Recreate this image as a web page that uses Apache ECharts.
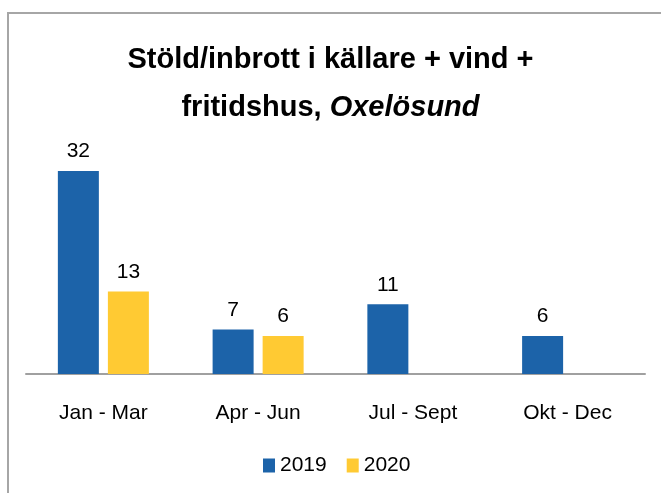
<!DOCTYPE html>
<html>
<head>
<meta charset="utf-8">
<script src="https://cdn.jsdelivr.net/npm/echarts@6/dist/echarts.min.js"></script>
<style>
  html, body { margin: 0; padding: 0; background: #fff; }
  #chart { width: 661px; height: 493px; }
</style>
</head>
<body>
<div id="chart"></div>
<script>
  // data
  const categories = ['Jan - Mar', 'Apr - Jun', 'Jul - Sept', 'Okt - Dec'];
  const values2019 = [32, 7, 11, 6];
  const values2020 = [13, 6, null, null];
  const seriesNames = ['2019', '2020'];

  const font = '"Liberation Sans", Arial, sans-serif';
  const myChart = echarts.init(document.getElementById('chart'));

  const labelStyle = {
    show: true,
    position: 'top',
    distance: 9,
    color: '#000',
    fontSize: 21,
    fontFamily: font
  };

  const option = {
    animation: false,
    backgroundColor: '#fff',
    color: ['#1c63a9', '#ffca33'],
    graphic: [{
      type: 'polyline',
      shape: { points: [[8, 493], [8, 13], [661, 13]] },
      style: { stroke: '#a6a6a6', lineWidth: 2, fill: null }
    }],
    title: {
      left: 'center',
      top: 31,
      text: '{b|Stöld/inbrott i källare + vind +}\n{b|fritidshus, }{i|Oxelösund}',
      textStyle: {
        rich: {
          b: { fontSize: 29, fontWeight: 'bold', fontFamily: font, color: '#000', lineHeight: 48 },
          i: { fontSize: 29, fontWeight: 'bold', fontStyle: 'italic', fontFamily: font, color: '#000', lineHeight: 48 }
        }
      }
    },
    legend: {
      bottom: 12,
      left: 258,
      itemWidth: 12,
      itemHeight: 14,
      itemGap: 20,
      icon: 'rect',
      textStyle: { fontSize: 21, fontFamily: font, color: '#000' },
      data: seriesNames
    },
    grid: {
      left: 26,
      right: 16,
      top: 152,
      bottom: 119
    },
    xAxis: {
      type: 'category',
      data: categories,
      axisLine: { lineStyle: { color: '#a0a0a0', width: 2 } },
      axisTick: { show: false },
      axisLabel: { color: '#000', fontSize: 21, fontFamily: font, margin: 29 }
    },
    yAxis: {
      type: 'value',
      min: 0,
      max: 35,
      show: false,
      splitLine: { show: false }
    },
    series: [
      {
        name: seriesNames[0],
        type: 'bar',
        data: values2019,
        barWidth: 41,
        barGap: '22%',
        label: labelStyle
      },
      {
        name: seriesNames[1],
        type: 'bar',
        data: values2020,
        barWidth: 41,
        label: labelStyle
      }
    ]
  };
  myChart.setOption(option);
</script>
</body>
</html>
